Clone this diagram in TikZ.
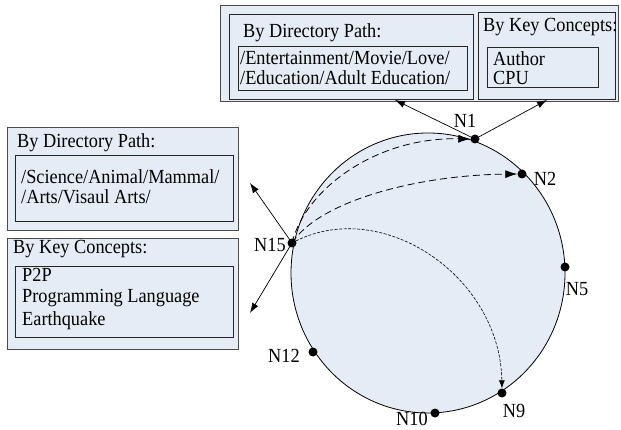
\documentclass[tikz,border=0pt]{standalone}
\usepackage{fontspec}
\setmainfont{Liberation Serif}[FakeStretch=0.915]
\usetikzlibrary{arrows.meta}
\definecolor{boxfill}{RGB}{230,236,246}
\begin{document}
\begin{tikzpicture}[x=1pt,y=-1pt,
  outerbox/.style={draw=black!70,line width=1.1pt,fill=boxfill,anchor=north west,inner sep=0pt},
  innerbox/.style={draw=black!85,line width=0.8pt,anchor=north west,inner sep=0pt},
  txt/.style={font=\fontsize{20}{21}\selectfont,inner sep=0pt,anchor=base west},
  lbl/.style={font=\fontsize{20}{21}\selectfont,inner sep=0pt},
  dot/.style={circle,fill=black,inner sep=0pt,minimum size=9pt},
  link/.style={line width=0.7pt,-{Latex[length=10pt,width=7pt]}},
  bigdash/.style={line width=0.8pt,dash pattern=on 7pt off 4pt,-{Latex[length=12pt,width=8pt]}},
  finedash/.style={line width=0.6pt,dash pattern=on 3pt off 1.5pt,-{Latex[length=8pt,width=6pt]}}]
\useasboundingbox (0,0) rectangle (621,430);

% top boxes
\node[outerbox,minimum width=398pt,minimum height=96pt] (topouter) at (220,5) {};
\node[innerbox,minimum width=244pt,minimum height=85pt] (topleft) at (229,14) {};
\node[innerbox,minimum width=137pt,minimum height=87pt] (topright) at (478,12) {};
\node[innerbox,minimum width=229pt,minimum height=44pt] (toppath) at (238,46) {};
\node[innerbox,minimum width=111pt,minimum height=40pt] (topkey) at (487,47) {};
\node[txt] (t1) at (243,38) {By Directory Path:};
\node[txt] (t2) at (240,65) {/Entertainment/Movie/Love/};
\node[txt] (t3) at (240,85) {/Education/Adult Education/};
\node[txt] (t4) at (483,32) {By Key Concepts:};
\node[txt] (t5) at (493,66) {Author};
\node[txt] (t6) at (493,85) {CPU};

% left boxes
\node[outerbox,minimum width=231pt,minimum height=103pt] (lpath) at (7,127) {};
\node[innerbox,minimum width=218pt,minimum height=66pt] (lpathin) at (15,155) {};
\node[outerbox,minimum width=231pt,minimum height=111pt] (lkey) at (7,238) {};
\node[innerbox,minimum width=218pt,minimum height=71pt] (lkeyin) at (15,266) {};
\node[txt] (l1) at (17,148) {By Directory Path:};
\node[txt] (l2) at (21,184) {/Science/Animal/Mammal/};
\node[txt] (l3) at (21,204) {/Arts/Visaul Arts/};
\node[txt] (l4) at (13,254) {By Key Concepts:};
\node[txt] (l5) at (22,282) {P2P};
\node[txt] (l6) at (22,303) {Programming Language};
\node[txt] (l7) at (22,325) {Earthquake};

% ring
\draw[line width=0.8pt,fill=boxfill] (428,273) ellipse [x radius=137pt,y radius=140pt];

\node[dot] (n1) at (475,139) {};
\node[dot] (n2) at (522,174) {};
\node[dot] (n15) at (292,243) {};
\node[dot] (n5) at (565,267) {};
\node[dot] (n12) at (313,352) {};
\node[dot] (n9) at (502,393) {};
\node[dot] (n10) at (435,413) {};

\node[lbl] (ln1) at (465,121) {N1};
\node[lbl] (ln2) at (545,179) {N2};
\node[lbl] (ln15) at (270,245) {N15};
\node[lbl] (ln5) at (577,289) {N5};
\node[lbl] (ln12) at (284,356) {N12};
\node[lbl] (ln9) at (514,411) {N9};
\node[lbl] (ln10) at (412,419) {N10};

% arrows to boxes
\coordinate (a1) at (395,100);
\coordinate (a2) at (547,100);
\coordinate (a3) at (250,183);
\coordinate (a4) at (250,313);
\draw[link] (n1.center) -- (a1);
\draw[link] (n1.center) -- (a2);
\draw[link] (n15.center) -- (a3);
\draw[link] (n15.center) -- (a4);

% routing
\draw[bigdash] (n15.center) .. controls (305,190) and (375,137) .. (n1.west);
\draw[bigdash] (n15.center) .. controls (320,200) and (420,175) .. (n2.west);
\draw[finedash] (n15.center) .. controls (380,195) and (500,275) .. (n9.north);
\end{tikzpicture}
\end{document}
